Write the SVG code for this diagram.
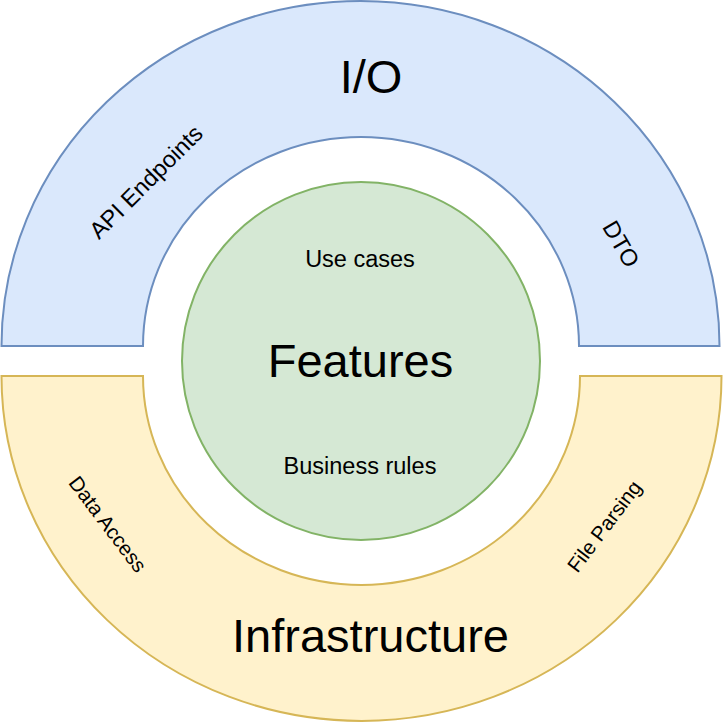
<svg xmlns="http://www.w3.org/2000/svg" width="723" height="723" viewBox="0 0 723 723">
<style>
text{font-family:"Liberation Sans",Arial,sans-serif;fill:#000}
.big{font-size:47px}
.sm{font-size:23.5px}
.xs{font-size:20.5px}
.c{text-anchor:middle}
.r{text-anchor:middle;dominant-baseline:central}
</style>
<rect width="723" height="723" fill="#fff"/>
<g id="io">
<path d="M1.5,346 A359,345 0 0 1 719.5,346 L579,346 A218,209 0 0 0 143,346 Z" fill="#dae8fc" stroke="#6c8ebf" stroke-width="2"/>
<text class="big c" x="371" y="93">I/O</text>
<text class="sm r" transform="translate(146,182) rotate(-45)">API Endpoints</text>
<text class="sm r" transform="translate(621,244) rotate(60)">DTO</text>
</g>
<g id="infrastructure">
<path d="M1.5,376 A360,345 0 0 0 721.5,376 L580,376 A218.5,209 0 0 1 143,376 Z" fill="#fff2cc" stroke="#d6b656" stroke-width="2"/>
<text class="big c" x="370.5" y="652">Infrastructure</text>
<text class="xs r" transform="translate(108,524) rotate(53)">Data Access</text>
<text class="xs r" transform="translate(604,526) rotate(-53)">File Parsing</text>
</g>
<g id="features">
<circle cx="361" cy="361" r="179" fill="#d5e8d4" stroke="#82b366" stroke-width="2"/>
<text class="big c" x="360.5" y="377">Features</text>
<text class="sm c" x="360" y="267">Use cases</text>
<text class="sm c" x="360" y="474">Business rules</text>
</g>
<g id="connectors"/>
</svg>
